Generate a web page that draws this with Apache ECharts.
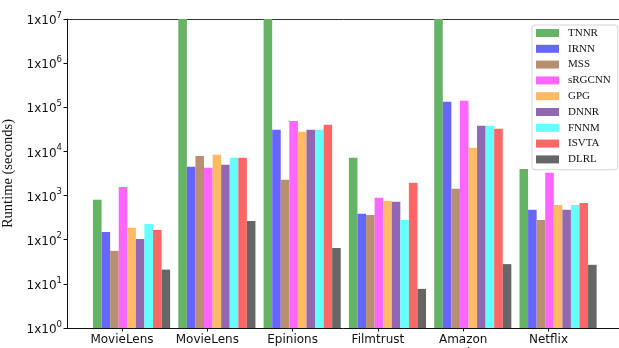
<!DOCTYPE html>
<html>
<head>
<meta charset="utf-8">
<script src="https://cdn.jsdelivr.net/npm/echarts@6/dist/echarts.min.js"></script>
<style>
  html, body { margin: 0; padding: 0; background: #fff; }
  #chart { width: 619px; height: 348px; }
</style>
</head>
<body>
<div id="chart"></div>
<script>
// Datasets on the x axis
const categories = ['MovieLens\n100K', 'MovieLens\n1M', 'Epinions', 'Filmtrust', 'Amazon\nMovies', 'Netflix'];

// Runtime in seconds per method, one value per dataset
const methods = ['TNNR', 'IRNN', 'MSS', 'sRGCNN', 'GPG', 'DNNR', 'FNNM', 'ISVTA', 'DLRL'];
const TNNR   = [800, 1e7, 1e7, 7200, 1e7, 4000];
const IRNN   = [150, 4500, 31000, 385, 133000, 475];
const MSS    = [56, 7900, 2270, 365, 1420, 280];
const sRGCNN = [1570, 4250, 49000, 890, 140000, 3270];
const GPG    = [185, 8400, 28000, 760, 12100, 615];
const DNNR   = [104, 5000, 31000, 720, 38000, 475];
const FNNM   = [228, 7200, 31000, 280, 38000, 615];
const ISVTA  = [167, 7200, 40000, 1940, 32500, 683];
const DLRL   = [21, 267, 65, 7.7, 28, 27];
const seriesValues = [TNNR, IRNN, MSS, sRGCNN, GPG, DNNR, FNNM, ISVTA, DLRL];

// Log-axis range (powers of ten)
const yMin = 1;
const yMax = 1e7;

// Bar fills (60% tints of the base colours)
const colors = ['#66B366', '#6666FF', '#B98F71', '#FF66FF', '#FFBA66', '#9366B4', '#66FFFF', '#FF6666', '#666666'];

const chart = echarts.init(document.getElementById('chart'), null, { renderer: 'canvas' });

const TOP = 19, BOTTOM = 20;
const BAND = 85.3;

const hiddenLog = (gridIndex) => ({
  type: 'log', logBase: 10, min: yMin, max: yMax, gridIndex, show: false
});

const option = {
  animation: false,
  backgroundColor: '#ffffff',
  grid: [
    // bars
    { left: 88.92, width: BAND * 6, top: TOP, bottom: BOTTOM, outerBoundsMode: 'none', containLabel: false },
    // frame and y axis
    { left: 67, width: 600, top: TOP, bottom: BOTTOM, outerBoundsMode: 'none', containLabel: false },
    // dataset labels, centred under the fourth bar of each group
    { left: 79.35, width: BAND * 6, top: TOP, bottom: BOTTOM, outerBoundsMode: 'none', containLabel: false }
  ],
  xAxis: [
    { type: 'category', data: categories, gridIndex: 0, show: false },
    {
      type: 'value', gridIndex: 1, min: 0, max: 1, position: 'bottom',
      axisLine: { show: true, onZero: false, lineStyle: { color: '#111', width: 1 } },
      axisTick: { show: false }, axisLabel: { show: false }, splitLine: { show: false }
    },
    {
      type: 'value', gridIndex: 1, min: 0, max: 1, position: 'top',
      axisLine: { show: true, onZero: false, lineStyle: { color: '#333', width: 1 } },
      axisTick: { show: false }, axisLabel: { show: false }, splitLine: { show: false }
    },
    {
      type: 'category', data: categories, gridIndex: 2, position: 'bottom',
      axisLine: { show: false, onZero: false },
      axisTick: { show: true, alignWithLabel: true, length: 3.5, lineStyle: { color: '#111', width: 1 } },
      axisLabel: {
        margin: 5, fontFamily: 'DejaVu Sans', fontSize: 12, color: '#111', lineHeight: 14,
        verticalAlign: 'top'
      }
    }
  ],
  yAxis: [
    hiddenLog(0),
    {
      type: 'log', logBase: 10, min: yMin, max: yMax, gridIndex: 1,
      axisLine: { show: true, lineStyle: { color: '#111', width: 1 } },
      axisTick: { show: true, length: 3.5, lineStyle: { color: '#111', width: 1 } },
      minorTick: { show: false },
      splitLine: { show: false },
      axisLabel: {
        margin: 5,
        formatter: (v) => '{b|1x10}{s|' + Math.round(Math.log10(v)) + '}',
        rich: {
          b: { fontFamily: 'DejaVu Sans', fontSize: 12, color: '#111', lineHeight: 16, verticalAlign: 'bottom' },
          s: { fontFamily: 'DejaVu Sans', fontSize: 8.5, color: '#111', lineHeight: 16, verticalAlign: 'top', padding: [0, 0, 6, 0] }
        }
      },
      name: 'Runtime (seconds)',
      nameLocation: 'middle',
      nameGap: 50,
      nameTextStyle: { fontFamily: 'Liberation Serif', fontSize: 14.5, color: '#111' }
    },
    hiddenLog(2)
  ],
  legend: {
    orient: 'vertical',
    left: 532, top: 25,
    padding: [2.5, 7, 4.8, 4],
    itemWidth: 23, itemHeight: 8, itemGap: 4.8,
    icon: 'rect',
    borderColor: '#d5d5d5', borderWidth: 1, borderRadius: 3,
    backgroundColor: 'rgba(255,255,255,0.8)',
    textStyle: { fontFamily: 'Liberation Serif', fontSize: 11, lineHeight: 11, color: '#111', padding: [0, 0, 0, 4] },
    data: methods
  },
  series: methods.map((name, i) => ({
    name,
    type: 'bar',
    xAxisIndex: 0, yAxisIndex: 0,
    data: seriesValues[i],
    barWidth: 8.57,
    barGap: '0%',
    itemStyle: { color: colors[i] }
  }))
};

chart.setOption(option);
</script>
</body>
</html>
